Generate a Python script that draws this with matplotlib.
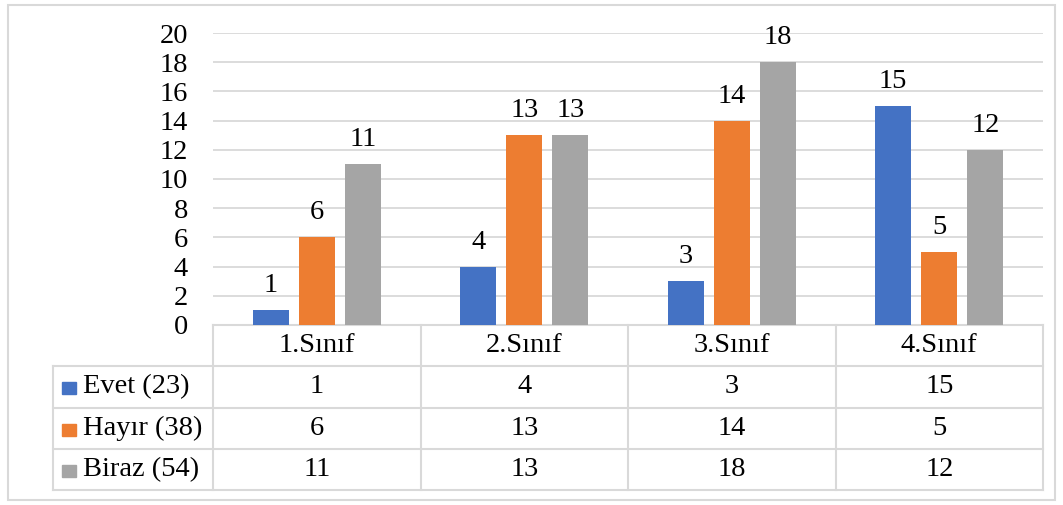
import matplotlib
matplotlib.use("Agg")
from matplotlib import pyplot as plt
from matplotlib import transforms
from matplotlib.patches import Rectangle

categories = ["1.Sınıf", "2.Sınıf", "3.Sınıf", "4.Sınıf"]
series_names = ["Evet (23)", "Hayır (38)", "Biraz (54)"]
evet = [1, 4, 3, 15]
hayir = [6, 13, 14, 5]
biraz = [11, 13, 18, 12]
yticks = [0, 2, 4, 6, 8, 10, 12, 14, 16, 18, 20]

colors = ["#4472C4", "#ED7D31", "#A5A5A5"]
grid_c = "#D9D9D9"
fs = 20.5

plt.rcParams['font.family'] = ['Liberation Serif', 'DejaVu Serif']

W, H = 1063, 505
fig = plt.figure(figsize=(W / 100, H / 100), dpi=100)

# plot area in pixels
left, right, top, bottom = 213, 1043, 33, 325
ax = fig.add_axes([left / W, 1 - bottom / H, (right - left) / W, (bottom - top) / H])

series = [evet, hayir, biraz]
bw = 0.174
off = 0.222
for i, vals in enumerate(series):
    xs = [k + (i - 1) * off for k in range(len(categories))]
    ax.bar(xs, vals, width=bw, color=colors[i], zorder=3)
    for x, v in zip(xs, vals):
        ax.annotate(str(v), (x, v), xytext=(0, 18), textcoords="offset pixels",
                    ha="center", va="baseline", fontsize=fs)

ax.set_xlim(-0.5, len(categories) - 0.5)
ax.set_ylim(0, 20)
ax.set_yticks(yticks)
ax.set_yticklabels([str(t) for t in yticks], fontsize=fs)
ax.tick_params(axis="y", length=0, pad=18)
ax.set_xticks([])
for s in ax.spines.values():
    s.set_visible(False)
for t in yticks[1:]:
    ax.axhline(t, color=grid_c, lw=1.3, zorder=1)

# data table below the plot
trans = transforms.blended_transform_factory(ax.transData, ax.transAxes)
ph = bottom - top
row_h = 41.3 / ph
label_left = -0.5 - (left - 53) / ((right - left) / len(categories))
n = len(categories)
lw = 1.5

# horizontal lines
ax.plot([-0.5, n - 0.5], [0, 0], color=grid_c, lw=lw, transform=trans, clip_on=False)
for r in range(1, 5):
    ax.plot([label_left, n - 0.5], [-r * row_h, -r * row_h], color=grid_c, lw=lw,
            transform=trans, clip_on=False)
# vertical lines
ax.plot([label_left, label_left], [-row_h, -4 * row_h], color=grid_c, lw=lw,
        transform=trans, clip_on=False)
for k in range(n + 1):
    ax.plot([k - 0.5, k - 0.5], [0, -4 * row_h], color=grid_c, lw=lw,
            transform=trans, clip_on=False)

# header
for k, c in enumerate(categories):
    ax.text(k, -0.5 * row_h, c, ha="center", va="center", fontsize=fs,
            transform=trans)
# rows
unit_px = (right - left) / n
for i, (name, vals) in enumerate(zip(series_names, series)):
    yc = -(i + 1.5) * row_h
    sq_h = 12 / ph
    ax.add_patch(Rectangle((label_left + 9 / unit_px, yc - sq_h / 2 - 1.5 / ph), 14 / unit_px, sq_h,
                           color=colors[i], transform=trans, clip_on=False))
    ax.text(label_left + 30 / unit_px, yc, name, ha="left", va="center", fontsize=fs,
            transform=trans)
    for k, v in enumerate(vals):
        ax.text(k, yc, str(v), ha="center", va="center", fontsize=fs, transform=trans)

# outer chart border
fig.add_artist(Rectangle((8 / W, 1 - 500 / H), 1047 / W, 495 / H, fill=False,
                         edgecolor=grid_c, lw=1.5, transform=fig.transFigure))

fig.savefig("out.png", dpi=100)
